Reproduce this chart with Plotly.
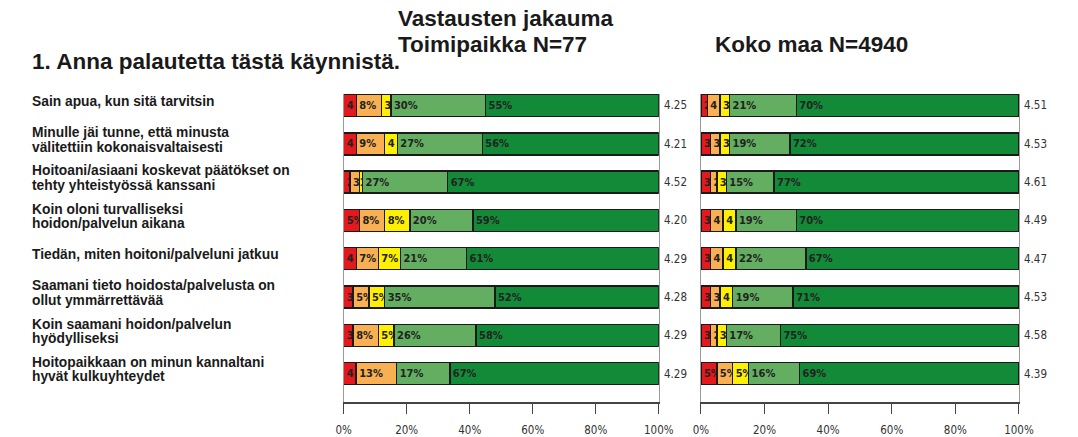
import plotly.graph_objects as go

# ---------------- data ----------------
questions = [
    "Sain apua, kun sitä tarvitsin",
    "Minulle jäi tunne, että minusta<br>välitettiin kokonaisvaltaisesti",
    "Hoitoani/asiaani koskevat päätökset on<br>tehty yhteistyössä kanssani",
    "Koin oloni turvalliseksi<br>hoidon/palvelun aikana",
    "Tiedän, miten hoitoni/palveluni jatkuu",
    "Saamani tieto hoidosta/palvelusta on<br>ollut ymmärrettävää",
    "Koin saamani hoidon/palvelun<br>hyödylliseksi",
    "Hoitopaikkaan on minun kannaltani<br>hyvät kulkuyhteydet",
]

# Toimipaikka N=77 (percent per answer level 1..5)
local_1 = [4, 4, 2, 5, 4, 3, 3, 4]
local_2 = [8, 9, 3, 8, 7, 5, 8, 13]
local_3 = [3, 4, 1, 8, 7, 5, 5, 0]
local_4 = [30, 27, 27, 20, 21, 35, 26, 17]
local_5 = [55, 56, 67, 59, 61, 52, 58, 67]
local_mean = [4.25, 4.21, 4.52, 4.20, 4.29, 4.28, 4.29, 4.29]

# Koko maa N=4940
nat_1 = [2, 3, 3, 3, 3, 3, 3, 5]
nat_2 = [4, 3, 2, 4, 4, 3, 2, 5]
nat_3 = [3, 3, 3, 4, 4, 4, 3, 5]
nat_4 = [21, 19, 15, 19, 22, 19, 17, 16]
nat_5 = [70, 72, 77, 70, 67, 71, 75, 69]
nat_mean = [4.51, 4.53, 4.61, 4.49, 4.47, 4.53, 4.58, 4.39]

level_colors = ["#E3191C", "#F8B052", "#FFF000", "#63AE60", "#128A38"]
tick_vals = [0, 20, 40, 60, 80, 100]
tick_text = ["0%", "20%", "40%", "60%", "80%", "100%"]

W, H = 1078, 437
NARROW = "Liberation Sans Narrow, Arial Narrow, DejaVu Sans Condensed, sans-serif"
BOLD = "Liberation Sans, Arial, Helvetica, sans-serif"

fig = go.Figure()
rows = list(range(len(questions)))


def add_panel(levels, xa, ya):
    totals = [sum(v) for v in zip(*levels)]
    for k, vals in enumerate(levels):
        xs = [v / t * 100 for v, t in zip(vals, totals)]
        txt = [f"<b>{v}%</b>" if v >= 5 else (f"<b>{v}</b>" if v > 0 else "") for v in vals]
        fig.add_trace(go.Bar(
            x=xs, y=rows, orientation="h", width=0.575,
            marker=dict(color=level_colors[k], line=dict(color="#1a1a1a", width=1.5)),
            text=txt, textposition="inside", insidetextanchor="start", textangle=0,
            insidetextfont=dict(family=NARROW, size=11, color="#222222"),
            xaxis=xa, yaxis=ya, showlegend=False, hoverinfo="skip",
        ))


add_panel([local_1, local_2, local_3, local_4, local_5], "x", "y")
add_panel([nat_1, nat_2, nat_3, nat_4, nat_5], "x2", "y2")

ann = []
for i, m in enumerate(local_mean):
    ann.append(dict(x=100, y=i, xref="x", yref="y", text=f"{m:.2f}", showarrow=False,
                    xanchor="left", xshift=3, font=dict(family=NARROW, size=11.5, color="#333")))
for i, m in enumerate(nat_mean):
    ann.append(dict(x=100, y=i, xref="x2", yref="y2", text=f"{m:.2f}", showarrow=False,
                    xanchor="left", xshift=3, font=dict(family=NARROW, size=11.5, color="#333")))

LINE_GAP = 14.5
for i, q in enumerate(questions):
    lines = q.split("<br>")
    n = len(lines)
    for j, line in enumerate(lines):
        offset = ((n - 1) / 2 - j) * LINE_GAP
        ann.append(dict(x=22 / W, y=i, xref="paper", yref="y", text=f"<b>{line}</b>",
                        showarrow=False, xanchor="left", yanchor="middle", align="left",
                        yshift=4 + offset,
                        font=dict(family=BOLD, size=13.8, color="#1a1a1a")))

titles = [
    ("Vastausten jakauma", 396, 19),
    ("Toimipaikka N=77", 396, 44),
    ("Koko maa N=4940", 720, 44),
    ("1. Anna palautetta tästä käynnistä.", 22, 61),
]
for t, px, py in titles:
    ann.append(dict(x=px / W, y=1 - py / H, xref="paper", yref="paper", text=f"<b>{t}</b>",
                    showarrow=False, xanchor="left", yanchor="middle",
                    font=dict(family=BOLD, size=22.5, color="#1a1a1a")))

xcommon = dict(range=[0, 100], tickvals=tick_vals, ticktext=tick_text, ticks="outside",
               ticklen=10, tickcolor="#444", tickwidth=1.2, showline=True, linecolor="#444",
               linewidth=1.5, showgrid=False, zeroline=False, ticklabelstandoff=6,
               tickfont=dict(family=NARROW, size=11.5, color="#333"), fixedrange=True)
ycommon = dict(range=[7.74, -0.3], showticklabels=False, ticks="", showline=True, mirror=True,
               linecolor="#9a9a9a", linewidth=1, showgrid=False, zeroline=False,
               domain=[1 - 402 / H, 1 - 94 / H], fixedrange=True)

fig.update_layout(
    width=W, height=H, margin=dict(l=0, r=0, t=0, b=0),
    paper_bgcolor="white", plot_bgcolor="white", barmode="stack",
    uniformtext=dict(minsize=11, mode="show"),
    xaxis=dict(domain=[343 / W, 665 / W], anchor="y", **xcommon),
    xaxis2=dict(domain=[708 / W, 1033 / W], anchor="y2", **xcommon),
    yaxis=dict(anchor="x", **ycommon),
    yaxis2=dict(anchor="x2", **ycommon),
    annotations=ann,
)

fig.write_html(
    "out.html",
    config={"displayModeBar": False},
    post_script="document.body.style.margin='0';document.body.style.padding='0';"
                "document.body.style.overflow='hidden';",
)
